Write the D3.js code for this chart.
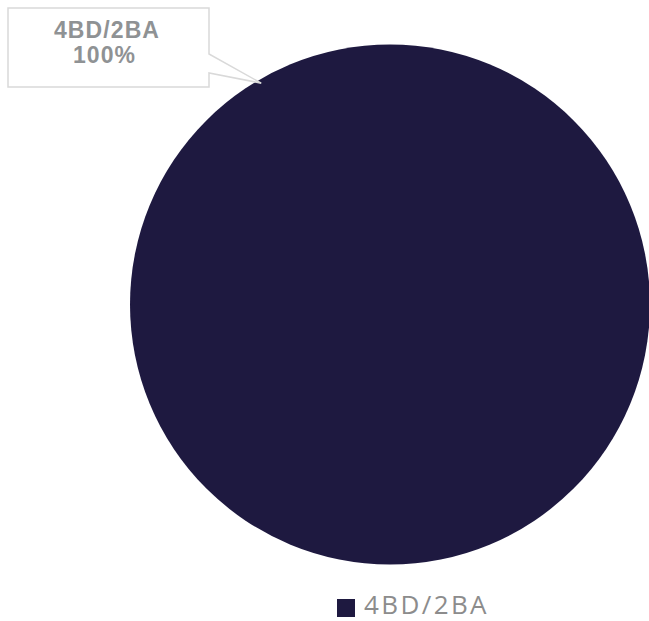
<!DOCTYPE html>
<html>
<head>
<meta charset="utf-8">
<script src="https://cdn.jsdelivr.net/npm/d3@7"></script>
<style>
  html, body { margin: 0; padding: 0; background: #fff; }
  svg { display: block; }
</style>
</head>
<body>
<div id="grafica"></div>
<script>
// datos
var categorias = ["4BD/2BA"];
var valores = [1];
var colores = ["#1e1940"];

var ancho = 649, alto = 621;
var cx = 390, cy = 304.5, radio = 260;

var svg = d3.select("#grafica").append("svg")
    .attr("width", ancho)
    .attr("height", alto);

var pie = d3.pie().sort(null).value(function (d) { return d.value; });
var arc = d3.arc().innerRadius(0).outerRadius(radio);

var datos = pie(categorias.map(function (c, i) {
    return { key: c, value: valores[i] };
}));
var total = d3.sum(valores);

var color = d3.scaleOrdinal().domain(categorias).range(colores);

var g = svg.append("g").attr("transform", "translate(" + cx + "," + cy + ")");

g.selectAll("path")
    .data(datos)
    .enter().append("path")
    .attr("d", arc)
    .attr("fill", function (d) { return color(d.data.key); });

// etiqueta tipo globo
var caja = { x: 8, y: 8, w: 201, h: 79 };
var angEtiqueta = -0.527;
datos.forEach(function (d) {
    var p = d3.pointRadial(angEtiqueta, radio * 0.985);
    var px = cx + p[0], py = cy + p[1];
    var x0 = caja.x, y0 = caja.y, x1 = caja.x + caja.w, y1 = caja.y + caja.h;
    var path = d3.path();
    path.moveTo(x0, y0);
    path.lineTo(x1, y0);
    path.lineTo(x1, y0 + 46);
    path.lineTo(px, py);
    path.lineTo(x1, y0 + 65);
    path.lineTo(x1, y1);
    path.lineTo(x0, y1);
    path.closePath();
    svg.append("path")
        .attr("d", path.toString())
        .attr("fill", "#fff")
        .attr("stroke", "#d9d9d9")
        .attr("stroke-width", 1.5);

    var texto = svg.append("text")
        .attr("text-anchor", "middle")
        .attr("font-family", "Liberation Sans, Arial, sans-serif")
        .attr("font-weight", "bold")
        .attr("font-size", 23)
        .attr("letter-spacing", 1.1)
        .attr("fill", "#8f9294");
    texto.append("tspan")
        .attr("x", caja.x + caja.w / 2 - 1.5)
        .attr("y", 37.5)
        .text(d.data.key);
    texto.append("tspan")
        .attr("x", caja.x + caja.w / 2 - 4)
        .attr("y", 62.8)
        .text(d3.format(".0%")(d.data.value / total));
});

// leyenda
var leyenda = svg.selectAll("g.leyenda")
    .data(categorias)
    .enter().append("g")
    .attr("class", "leyenda")
    .attr("transform", "translate(337,599)");

leyenda.append("rect")
    .attr("width", 18)
    .attr("height", 18)
    .attr("fill", function (d) { return color(d); });

leyenda.append("text")
    .attr("x", 27)
    .attr("y", 15)
    .attr("font-family", "Open Sans, sans-serif")
    .attr("font-size", 26)
    .attr("letter-spacing", 2.4)
    .attr("fill", "#8c8c8c")
    .text(function (d) { return d; });
</script>
</body>
</html>
